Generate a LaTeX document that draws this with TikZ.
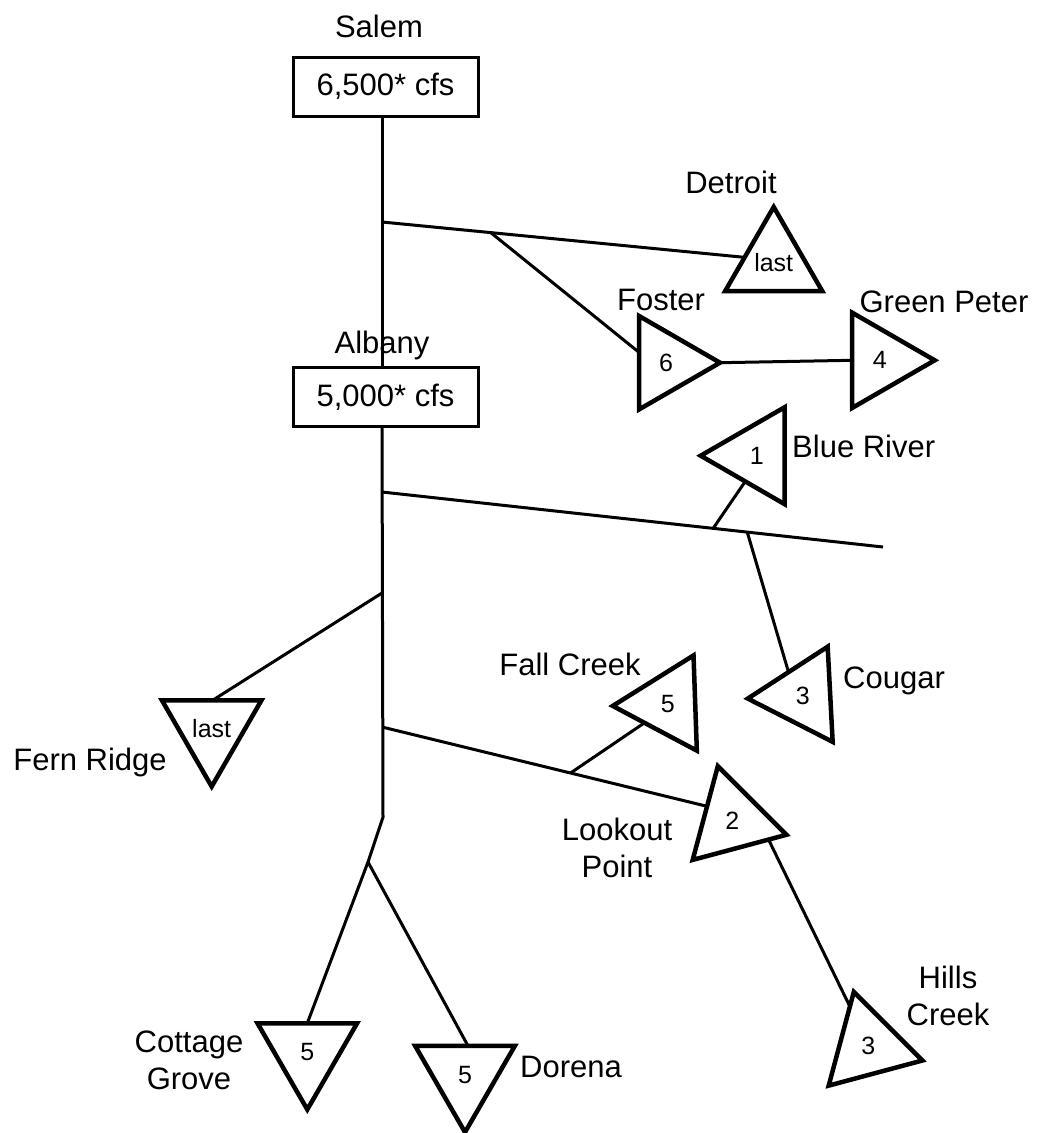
\documentclass[tikz,border=0pt]{standalone}
\usepackage{fontspec}
\setmainfont{Liberation Sans}
\usetikzlibrary{shapes.geometric,calc}

\begin{document}
\begin{tikzpicture}[x=1pt,y=-1pt,
    dam/.style={draw,line width=4.5pt,regular polygon,regular polygon sides=3,
      minimum size=112pt,inner sep=0pt,outer sep=0pt,
      font=\fontsize{25}{30}\selectfont},
    gauge/.style={draw,line width=3pt,minimum width=185pt,minimum height=59pt,
      inner sep=0pt,font=\fontsize{31}{37}\selectfont},
    lbl/.style={inner sep=0pt,align=center,font=\fontsize{31}{37}\selectfont},
    river/.style={line width=3pt}]
    \useasboundingbox (0,0) rectangle (1039,1133);

    % gauges
    \node[gauge] (salem) at (385.5,86.5) {6,500* cfs};
    \node[gauge] (albany) at (385.5,397) {5,000* cfs};
    \node[lbl,anchor=base] (salemlbl) at (379,37) {Salem};
    \node[lbl,anchor=base] (albanylbl) at (382,353) {Albany};

    % dams
    \node[dam,shape border rotate=0] (det) at (773.7,263) {last};
    \node[dam,shape border rotate=-90,minimum size=108pt] (fos) at (666,362.7) {6};
    \node[dam,shape border rotate=-90,minimum size=110pt] (gp) at (879.7,360.3) {4};
    \node[dam,shape border rotate=90] (blue) at (756.7,455.7) {1};
    \node[dam,shape border rotate=93,minimum size=110pt] (cou) at (802.7,695.7) {3};
    \node[dam,shape border rotate=92,minimum size=110pt] (fall) at (667.7,704) {5};
    \node[dam,shape border rotate=-105] (look) at (732.3,820.3) {2};
    \node[dam,shape border rotate=-105] (hills) at (868.3,1046) {3};
    \node[dam,shape border rotate=180,minimum size=115pt] (fern) at (211.7,729) {last};
    \node[dam,shape border rotate=180,minimum size=115pt] (cot) at (307.3,1052) {5};
    \node[dam,shape border rotate=180,minimum size=115pt] (dor) at (465,1074.7) {5};

    \node[lbl,anchor=base] (detlbl) at (731,193) {Detroit};
    \node[lbl,anchor=base] (foslbl) at (661,310) {Foster};
    \node[lbl,anchor=base] (gplbl) at (944,312) {Green Peter};
    \node[lbl,anchor=base west] (bluelbl) at (792,457) {Blue River};
    \node[lbl,anchor=base west] (coulbl) at (843,688) {Cougar};
    \node[lbl,anchor=base] (falllbl) at (570,675) {Fall Creek};
    \node[lbl] (looklbl) at (617,847.5) {Lookout\\Point};
    \node[lbl] (hillslbl) at (948,995.5) {Hills\\Creek};
    \node[lbl,anchor=base] (fernlbl) at (90,770) {Fern Ridge};
    \node[lbl] (cotlbl) at (189,1060.5) {Cottage\\Grove};
    \node[lbl,anchor=base west] (dorlbl) at (520,1077) {Dorena};

    % junctions on the main stem
    \coordinate (jdet) at (382,222);
    \coordinate (jblue) at (382,492);
    \coordinate (mck) at (883,547);
    \coordinate (jfern) at (382,593);
    \coordinate (jlook) at (382,727);
    \coordinate (bend) at (383,817);
    \coordinate (split) at (368,862);

    \draw[river] (salem.south -| jdet) -- (albany.north -| jdet);
    \draw[river] (albany.south -| jdet) -- (bend) -- (split);

    \draw[river] (jdet) -- (det.169);
    \draw[river] ($(jdet)!0.3!(det.169)$) -- (fos.159);
    \draw[river] (fos.0) -- (gp.180);

    \draw[river] (jblue) -- (mck);
    \draw[river] ($(jblue)!0.661!(mck)$) -- (blue.246);
    \draw[river] ($(jblue)!0.729!(mck)$) -- (cou.121);

    \draw[river] (jfern) -- (fern.88);

    \draw[river] (jlook) -- (look.151);
    \draw[river] ($(jlook)!0.58!(look.151)$) -- (fall.219);
    \draw[river] (look.-28) -- (hills.115);

    \draw[river] (split) -- (cot.90);
    \draw[river] (split) -- (dor.84);
\end{tikzpicture}
\end{document}
